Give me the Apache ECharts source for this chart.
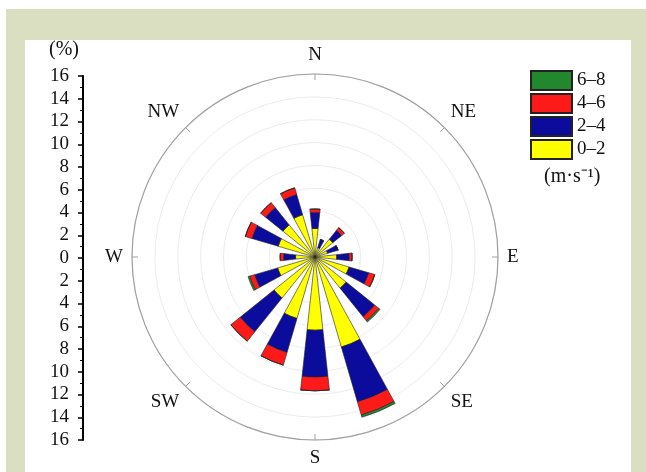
<!DOCTYPE html>
<html>
<head>
<meta charset="utf-8">
<script src="https://cdn.jsdelivr.net/npm/echarts@6/dist/echarts.min.js"></script>
<style>
  html, body { margin: 0; padding: 0; background: #fff; }
  #chart { width: 646px; height: 472px; }
</style>
</head>
<body>
<div id="chart"></div>
<script>
// 风向（16方位）
const directions = ["N", "NNE", "NE", "ENE", "E", "ESE", "SE", "SSE", "S", "SSW", "SW", "WSW", "W", "WNW", "NW", "NNW"];
// 各风速段频率 (%)
const speed0to2 = [2.5, 0.85, 2.0, 1.15, 1.9, 3.1, 3.5, 8.2, 6.4, 5.6, 4.6, 3.4, 1.7, 3.35, 3.6, 3.85];
const speed2to4 = [1.4, 0.75, 1.0, 0.95, 1.1, 1.8, 3.2, 5.0, 4.1, 3.1, 3.8, 2.1, 1.05, 2.4, 1.95, 1.85];
const speed4to6 = [0.3, 0, 0.3, 0, 0.25, 0.55, 0.45, 1.2, 1.2, 1.15, 1.05, 0.45, 0.3, 0.6, 0.55, 0.6];
const speed6to8 = [0, 0, 0, 0, 0, 0, 0.15, 0.2, 0, 0, 0, 0.15, 0, 0, 0, 0];
const speedNames = ["0–2", "2–4", "4–6", "6–8"];
const speedColors = ["#ffff00", "#0c0c9c", "#ff1a1a", "#22882e"];

const serif = "Liberation Serif";
const chart = echarts.init(document.getElementById("chart"));

function barSeries(name, data, color) {
  return {
    name: name,
    type: "bar",
    coordinateSystem: "polar",
    stack: "wind",
    data: data,
    barCategoryGap: "45%",
    itemStyle: { color: color, borderColor: "#222", borderWidth: 0.6 }
  };
}

chart.setOption({
  animation: false,
  graphic: {
    elements: [
      { type: "rect", z: -10, shape: { x: 6, y: 9, width: 640, height: 463 }, style: { fill: "#d9dfc0" } },
      { type: "rect", z: -9, shape: { x: 25, y: 40, width: 606, height: 432 }, style: { fill: "#fff" } }
    ]
  },
  title: [
    { text: "(%)", left: 49, top: 40, padding: 0, textStyle: { fontFamily: serif, fontSize: 20, fontWeight: "normal", color: "#111" } },
    { text: "(m·s⁻¹)", left: 544, top: 167, padding: 0, textStyle: { fontFamily: serif, fontSize: 20, fontWeight: "normal", color: "#111" } }
  ],
  legend: {
    orient: "vertical",
    left: 530,
    top: 70,
    padding: 0,
    icon: "rect",
    itemWidth: 41,
    itemHeight: 19,
    itemGap: 2,
    data: ["6–8", "4–6", "2–4", "0–2"],
    textStyle: { fontFamily: serif, fontSize: 19, lineHeight: 19, color: "#111" }
  },
  // 左侧百分比刻度
  grid: { left: 83, top: 76, width: 10, height: 364 },
  xAxis: { type: "value", show: false },
  yAxis: {
    type: "value",
    min: -16,
    max: 16,
    interval: 2,
    axisLine: { show: true, lineStyle: { color: "#000", width: 2 } },
    axisTick: { show: true, length: 5, lineStyle: { color: "#000", width: 1.5 } },
    minorTick: { show: true, splitNumber: 2, length: 3, lineStyle: { color: "#000" } },
    splitLine: { show: false },
    axisLabel: {
      margin: 14,
      formatter: v => Math.abs(v),
      fontFamily: serif,
      fontSize: 19,
      color: "#111"
    }
  },
  polar: { center: [315, 257], radius: 183 },
  angleAxis: {
    type: "category",
    data: directions,
    boundaryGap: true,
    startAngle: 101.25,
    clockwise: true,
    axisLine: { lineStyle: { color: "#a0a0a0", width: 1.2 } },
    axisTick: { show: true, inside: true, length: 6, interval: 1, alignWithLabel: true, lineStyle: { color: "#a0a0a0" } },
    axisLabel: { interval: 1, margin: 9, fontFamily: serif, fontSize: 19, color: "#111" },
    splitLine: { show: false }
  },
  radiusAxis: {
    min: 0,
    max: 16,
    interval: 2,
    axisLine: { show: false },
    axisTick: { show: false },
    axisLabel: { show: false },
    splitLine: { show: true, lineStyle: { color: "#ececec" } }
  },
  series: [
    barSeries(speedNames[0], speed0to2, speedColors[0]),
    barSeries(speedNames[1], speed2to4, speedColors[1]),
    barSeries(speedNames[2], speed4to6, speedColors[2]),
    barSeries(speedNames[3], speed6to8, speedColors[3])
  ]
});
</script>
</body>
</html>
